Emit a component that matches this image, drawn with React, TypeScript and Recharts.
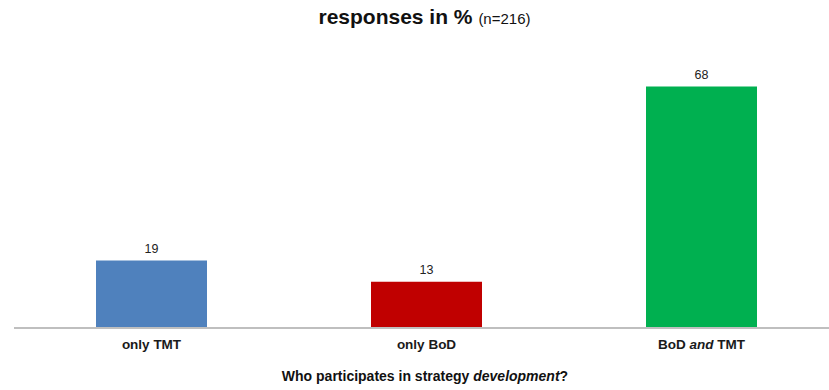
import React from 'react';
import { BarChart, Bar, XAxis, YAxis, Cell, LabelList } from 'recharts';

const categories = ['only TMT', 'only BoD', 'BoD and TMT'];
const responses = [19, 13, 68];
const barColors = ['#4F81BD', '#C00000', '#00B050'];

const data = categories.map((name, i) => ({ name, value: responses[i] }));

const FONT = '"Liberation Sans", Arial, sans-serif';

function CategoryTick(props: any) {
  const { x, y, payload } = props;
  const label: string = payload.value;
  const parts = label.split(' and ');
  return (
    <text x={x} y={y + 13} textAnchor="middle" fontFamily={FONT} fontSize={13.5} fontWeight="bold" fill="#1a1a1a">
      {parts.length === 2 ? (
        <>
          <tspan>{parts[0]} </tspan>
          <tspan fontStyle="italic">and</tspan>
          <tspan> {parts[1]}</tspan>
        </>
      ) : (
        label
      )}
    </text>
  );
}

export default function App() {
  return (
    <div style={{ position: 'absolute', left: 0, top: 0, width: 829, height: 390, overflow: 'hidden', background: '#fff', fontFamily: FONT }}>
      <div style={{ position: 'absolute', top: 5.5, left: 0, width: 849, textAlign: 'center', color: '#111', fontSize: 21, lineHeight: '21px' }}>
        <span style={{ fontWeight: 'bold' }}>responses in % </span>
        <span style={{ fontSize: 15 }}>(n=216)</span>
      </div>
      <div style={{ position: 'absolute', top: 0, left: 0 }}>
        <BarChart
          width={845}
          height={390}
          data={data}
          margin={{ top: 44, right: 6, bottom: 32, left: 14 }}
          barCategoryGap={82}
        >
          <YAxis hide domain={[0, 80]} />
          <XAxis
            dataKey="name"
            axisLine={{ stroke: '#BFBFBF', strokeWidth: 2 }}
            tickLine={false}
            tick={<CategoryTick />}
            interval={0}
          />
          <Bar dataKey="value" isAnimationActive={false}>
            {data.map((d, i) => (
              <Cell key={d.name} fill={barColors[i]} />
            ))}
            <LabelList dataKey="value" position="top" offset={8} fontFamily={FONT} fontSize={12.5} fill="#222" />
          </Bar>
        </BarChart>
      </div>
      <div style={{ position: 'absolute', top: 369, left: 0, width: 850, textAlign: 'center', fontSize: 14, lineHeight: '14px', fontWeight: 'bold', color: '#111' }}>
        Who participates in strategy <i>development</i>?
      </div>
    </div>
  );
}
